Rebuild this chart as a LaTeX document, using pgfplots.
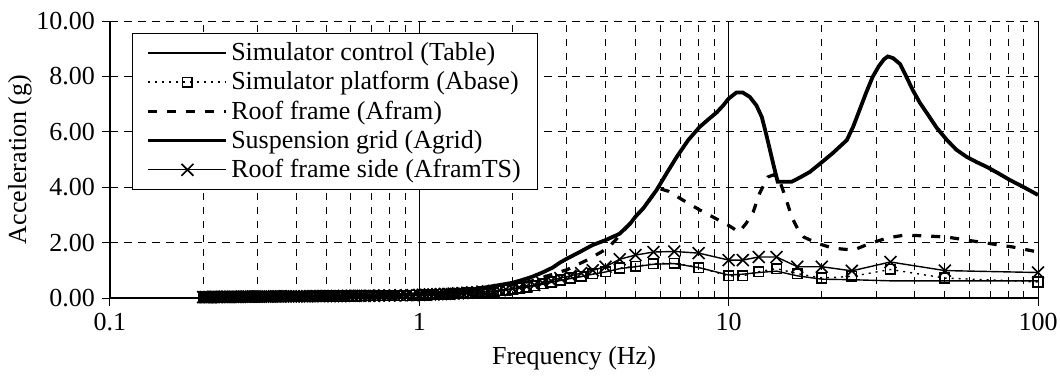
\documentclass[border=0pt]{standalone}
\usepackage{fontspec}
\setmainfont{Liberation Serif}
\usepackage{pgfplots}
\usepackage{pgfplotstable}
\pgfplotsset{compat=1.18}

\pgfplotstableread{
f table abase aframts
0.2 0.03 0.03 0.03
0.2020 0.03 0.03 0.03
0.2041 0.03 0.03 0.03
0.2062 0.03 0.03 0.03
0.2083 0.03 0.03 0.03
0.2105 0.03 0.03 0.03
0.2128 0.03 0.03 0.03
0.2151 0.03 0.03 0.04
0.2174 0.03 0.03 0.04
0.2198 0.03 0.03 0.04
0.2222 0.03 0.03 0.04
0.2247 0.03 0.04 0.04
0.2273 0.03 0.04 0.04
0.2299 0.04 0.04 0.04
0.2326 0.04 0.04 0.04
0.2353 0.04 0.04 0.04
0.2381 0.04 0.04 0.04
0.2410 0.04 0.04 0.04
0.2439 0.04 0.04 0.04
0.2469 0.04 0.04 0.04
0.25 0.04 0.04 0.04
0.2532 0.04 0.04 0.04
0.2564 0.04 0.04 0.04
0.2597 0.04 0.04 0.04
0.2632 0.04 0.04 0.04
0.2667 0.04 0.04 0.05
0.2703 0.04 0.04 0.05
0.2740 0.04 0.04 0.05
0.2778 0.04 0.04 0.05
0.2817 0.04 0.05 0.05
0.2857 0.04 0.05 0.05
0.2899 0.05 0.05 0.05
0.2941 0.05 0.05 0.05
0.2985 0.05 0.05 0.05
0.3030 0.05 0.05 0.05
0.3077 0.05 0.05 0.05
0.3125 0.05 0.05 0.05
0.3175 0.05 0.05 0.05
0.3226 0.05 0.05 0.05
0.3279 0.05 0.05 0.05
0.3333 0.05 0.05 0.05
0.3390 0.05 0.05 0.06
0.3448 0.05 0.05 0.06
0.3509 0.05 0.05 0.06
0.3571 0.05 0.05 0.06
0.3636 0.05 0.05 0.06
0.3704 0.05 0.05 0.06
0.3774 0.05 0.06 0.06
0.3846 0.05 0.06 0.06
0.3922 0.06 0.06 0.06
0.4 0.06 0.06 0.06
0.4082 0.06 0.06 0.06
0.4167 0.06 0.06 0.06
0.4255 0.06 0.06 0.06
0.4348 0.06 0.06 0.06
0.4444 0.06 0.06 0.07
0.4545 0.06 0.06 0.07
0.4651 0.06 0.06 0.07
0.4762 0.06 0.06 0.07
0.4878 0.06 0.07 0.07
0.5 0.06 0.07 0.07
0.5128 0.07 0.07 0.07
0.5263 0.07 0.07 0.07
0.5405 0.07 0.07 0.07
0.5556 0.07 0.07 0.07
0.5714 0.07 0.07 0.08
0.5882 0.07 0.07 0.08
0.6061 0.07 0.07 0.08
0.625 0.07 0.07 0.08
0.6452 0.07 0.08 0.08
0.6667 0.07 0.08 0.08
0.6897 0.08 0.08 0.08
0.7143 0.08 0.08 0.08
0.7407 0.08 0.08 0.09
0.7692 0.08 0.08 0.09
0.8 0.08 0.09 0.09
0.8333 0.08 0.09 0.09
0.8696 0.09 0.09 0.10
0.9091 0.09 0.09 0.10
0.9524 0.10 0.10 0.10
1.0 0.10 0.10 0.11
1.0256 0.11 0.11 0.12
1.0526 0.11 0.11 0.12
1.0811 0.12 0.12 0.13
1.1111 0.12 0.12 0.13
1.1429 0.13 0.13 0.14
1.1765 0.13 0.13 0.14
1.2121 0.14 0.14 0.15
1.25 0.14 0.14 0.15
1.2903 0.15 0.15 0.16
1.3333 0.15 0.16 0.17
1.3793 0.16 0.17 0.18
1.4286 0.17 0.18 0.19
1.4815 0.18 0.19 0.20
1.5385 0.19 0.20 0.21
1.6 0.21 0.22 0.23
1.6667 0.22 0.23 0.24
1.7391 0.24 0.25 0.26
1.8182 0.26 0.27 0.28
1.9048 0.28 0.29 0.31
2.0 0.31 0.32 0.34
2.1053 0.35 0.36 0.38
2.2222 0.39 0.40 0.42
2.3529 0.44 0.45 0.47
2.5 0.50 0.52 0.55
2.6667 0.56 0.58 0.62
2.8571 0.63 0.65 0.72
3.0769 0.70 0.72 0.80
3.3333 0.77 0.78 0.90
3.6364 0.86 0.88 1.00
4.0 0.94 0.95 1.13
4.4444 1.06 1.08 1.40
5.0 1.13 1.14 1.55
5.7143 1.22 1.24 1.66
6.6667 1.24 1.26 1.68
8.0 1.10 1.10 1.62
10 0.83 0.80 1.37
11.1111 0.86 0.80 1.37
12.5 0.92 0.95 1.48
14.2857 0.97 1.06 1.48
16.6667 0.80 0.88 1.13
20 0.68 0.72 1.13
25 0.66 0.78 0.98
33.3333 0.62 1.03 1.30
50 0.62 0.72 0.99
100 0.62 0.58 0.92
}\markdata

\pgfplotstableread{
f y
0.2 0.04
0.25 0.04
0.3 0.05
0.35 0.05
0.4 0.06
0.5 0.07
0.6 0.08
0.7 0.09
0.8 0.10
0.9 0.12
1.0 0.14
1.1 0.17
1.25 0.22
1.4 0.28
1.5 0.32
1.65 0.39
1.82 0.47
2.0 0.55
2.15 0.65
2.32 0.77
2.5 0.92
2.7 1.1
2.85 1.28
3.0 1.42
3.3 1.66
3.63 1.91
4.0 2.09
4.44 2.32
4.8 2.68
5.0 2.94
5.3 3.24
5.85 3.9
6.3 4.5
6.8 5.1
7.4 5.7
8.05 6.17
8.6 6.45
9.15 6.7
9.6 6.95
10.0 7.2
10.6 7.42
11.1 7.42
11.7 7.26
12.3 6.95
12.8 6.53
13.2 5.95
13.6 5.34
14.0 4.75
14.4 4.2
16.0 4.2
17.0 4.35
18.3 4.55
20.0 4.9
21.7 5.23
24.1 5.7
25.3 6.2
26.5 6.79
27.8 7.4
29.2 7.98
30.5 8.35
31.8 8.62
32.7 8.72
34.0 8.66
35.8 8.45
37.5 8.0
39.4 7.5
41.5 7.05
43.7 6.68
47.0 6.15
50.8 5.7
54.5 5.35
58.9 5.09
63.5 4.9
68.4 4.73
74.5 4.5
81.1 4.26
90.0 4.0
100 3.72
}\agrid

\pgfplotstableread{
f y
0.2 0.04
0.3 0.05
0.4 0.06
0.5 0.07
0.6 0.08
0.7 0.09
0.8 0.10
0.9 0.11
1.0 0.13
1.25 0.2
1.5 0.28
1.82 0.4
2.0 0.47
2.32 0.62
2.6 0.8
3.0 1.02
3.5 1.38
4.07 1.8
4.44 2.25
5.0 2.94
5.3 3.24
5.6 3.6
5.9 3.97
6.4 3.85
7.1 3.54
8.0 3.2
9.15 2.85
10.0 2.62
10.8 2.38
11.4 2.7
12.0 3.1
12.6 3.79
13.4 4.37
14.0 4.45
14.6 4.25
15.3 3.6
16.0 2.92
16.8 2.45
17.5 2.2
19.3 1.98
21.7 1.8
25.3 1.73
28.8 1.98
32.7 2.17
37.0 2.27
43.7 2.24
50.8 2.2
58.9 2.09
68.4 1.98
83.0 1.84
100 1.66
}\afram

\begin{document}
\begin{tikzpicture}[font=\fontsize{13}{15.6}\selectfont]
\begin{axis}[
  scale only axis, width=464pt, height=138.5pt,
  xmode=log, log basis x=10,
  xmin=0.1, xmax=100, ymin=0, ymax=10,
  axis x line*=bottom, axis y line*=left,
  axis line style={-, line width=0.6pt, black},
  xtick={0.1,1,10,100}, xticklabels={0.1,1,10,100},
  minor xtick={0.2,0.3,0.4,0.5,0.6,0.7,0.8,0.9,2,3,4,5,6,7,8,9,20,30,40,50,60,70,80,90},
  ytick={0,2,4,6,8,10},
  /pgf/number format/assume math mode=true,
  yticklabel style={/pgf/number format/fixed, /pgf/number format/fixed zerofill, /pgf/number format/precision=2},
  tick label style={font=\fontsize{13}{15.6}\selectfont},
  label style={font=\fontsize{13}{15.6}\selectfont},
  xmajorgrids, xminorgrids, ymajorgrids,
  major x grid style={black, line width=0.5pt, solid},
  minor x grid style={black, line width=0.5pt, dash pattern=on 3.5pt off 3.5pt},
  major y grid style={black, line width=0.5pt, dash pattern=on 4pt off 3pt},
  tick align=outside, major tick length=4pt, minor tick length=0pt,
  tick style={black, line width=0.5pt},
  xlabel={Frequency (Hz)}, ylabel={Acceleration (g)},
  xlabel style={at={(axis description cs:0.5,-0.2166)}, anchor=center},
  ylabel style={at={(axis description cs:-0.097,0.5)}, anchor=center, rotate=0},
  legend image code/.code={\draw[mark repeat=2,mark phase=2,#1] plot coordinates {(0pt,0pt) (19.5pt,0pt) (39pt,0pt)};},
  legend cell align=left,
  legend style={at={(0.0237,0.957)}, anchor=north west, draw=black, line width=0.5pt,
    font=\fontsize{13}{15.6}\selectfont, inner xsep=7pt, inner ysep=3pt,
    nodes={inner sep=1.5pt}, row sep=1pt},
]
\addplot[black, line width=0.7pt] table[x=f,y=table]{\markdata};
\addlegendentry{Simulator control (Table)}
\addplot[black, line width=0.7pt, dash pattern=on 1pt off 2.5pt, mark=square, mark size=2.4pt, mark options={solid, line width=0.8pt}] table[x=f,y=abase]{\markdata};
\addlegendentry{Simulator platform (Abase)}
\addplot[black, line width=1.6pt, dash pattern=on 4.5pt off 5pt] table[x=f,y=y]{\afram};
\addlegendentry{Roof frame (Afram)}
\addplot[black, line width=1.9pt] table[x=f,y=y]{\agrid};
\addlegendentry{Suspension grid (Agrid)}
\addplot[black, line width=0.7pt, mark=x, mark size=4.2pt, mark options={solid, line width=0.8pt}] table[x=f,y=aframts]{\markdata};
\addlegendentry{Roof frame side (AframTS)}
\end{axis}
\pgfresetboundingbox
\path[use as bounding box] (-55pt,-41.5pt) rectangle (475pt,149pt);
\end{tikzpicture}
\end{document}
